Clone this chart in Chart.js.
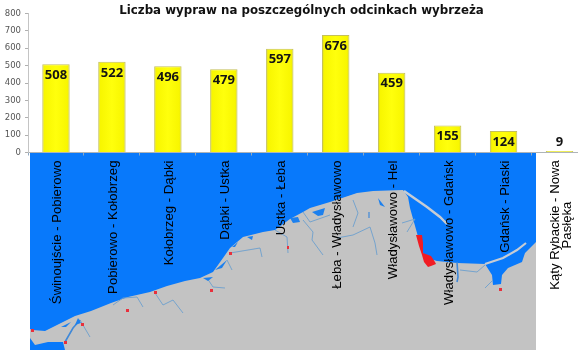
<!DOCTYPE html>
<html lang="pl">
<head>
<meta charset="UTF-8">
<title>Liczba wypraw</title>
<script src="https://cdn.jsdelivr.net/npm/chart.js"></script>
<style>
    html, body { margin: 0; padding: 0; width: 578px; height: 355px; overflow: hidden; background: #fff; }
    #map { position: absolute; left: 0; top: 0; }
    #wrap { position: absolute; left: 0; top: 0; width: 603px; height: 355px; }
</style>
</head>
<body>
<!-- background map of the coast -->
<svg id="map" width="578" height="355">
    <rect x="30" y="153" width="506" height="197" fill="#0879fb"/>
    <path fill="#c3c3c3" d="M30 329 33 330 45 331 51 328 61 323 75 316 91 311 111 303 128 297 150 292 167 286 185 281 200 278 213 272 223 258 230 248 243 237 263 232 275 230 290 219 303 212 310 208 330 202 357 193 373 191 403 190 408 197 410 208 417 233 422 252 427 258 437 261 457 263 485 264 492 275 493 285 501 284 502 275 508 268 522 262 525 253 536 242 536 350 65 350 63 342 48 342 35 345 30 338Z"/>
    <g fill="none" stroke="#c6ccd4">
        <path stroke-width="2.4" d="M404 191 427 207 440 217 447 224"/>
        <path stroke-width="2.2" d="M485 264 503 258 517 250 526 243"/>
    </g>
    <g fill="none" stroke="#6c9fce" stroke-width="0.9">
        <path d="M80 320 90 337"/>
        <path d="M113 305 123 298 137 297 143 307"/>
        <path d="M155 293 163 305 173 300 183 313"/>
        <path d="M207 278 213 287 225 288"/>
        <path d="M230 253 260 248 262 257"/>
        <path d="M227 260 232 270"/>
        <path d="M303 220 313 232 312 240 323 255"/>
        <path d="M337 238 353 235 370 227 375 243 377 255"/>
        <path d="M353 200 358 213 353 227"/>
        <path d="M402 223 415 219 407 232"/>
        <path d="M460 270 477 272 485 265"/>
        <path d="M485 288 493 280"/>
        <path d="M275 230 287 237 288 253"/>
        <path d="M303 212 310 222 330 215"/>
    </g>
    <g fill="none" stroke="#3f88d8">
        <path stroke-width="1.6" d="M65 342 73 328 80 320"/>
        <path stroke-width="1.6" d="M457 262 458 277 457 282"/>
        <path stroke-width="1.2" d="M369 212 369 218"/>
    </g>
    <g fill="#1c80ee">
        <path d="M290 218 298 217 300 222 293 223Z"/>
        <path d="M312 212 325 208 323 215 318 216Z"/>
        <path d="M378 198 385 207 380 205Z"/>
        <path d="M247 237 253 236 252 240Z"/>
        <path d="M232 247 238 242 235 247Z"/>
        <path d="M215 270 227 260 222 268Z"/>
        <path d="M203 278 213 277 208 281Z"/>
        <path d="M78 318 81 323 75 325Z"/>
        <path d="M61 327 71 322 66 327Z"/>
    </g>
    <path fill="#f01c24" d="M416 235 422 235 423 243 423 253 431 256 435 262 436 264 431 266 428 267 424 262 422 255 419 246Z"/>
    <g fill="#e8303c">
        <rect x="31" y="329" width="3" height="3"/>
        <rect x="64" y="341" width="3" height="3"/>
        <rect x="81" y="323" width="3" height="3"/>
        <rect x="126" y="309" width="3" height="3"/>
        <rect x="154" y="291" width="3" height="3"/>
        <rect x="210" y="289" width="3" height="3"/>
        <rect x="229" y="252" width="3" height="3"/>
        <rect x="287" y="246" width="2" height="3"/>
        <rect x="499" y="288" width="3" height="3"/>
    </g>
</svg>
<div id="wrap"><canvas id="chart"></canvas></div>

<script>
    const categories = [
        'Świnoujście - Pobierowo',
        'Pobierowo - Kołobrzeg',
        'Kołobrzeg - Dąbki',
        'Dąbki - Ustka',
        'Ustka - Łeba',
        'Łeba - Władysławowo',
        'Władysławowo - Hel',
        'Władysławowo - Gdańsk',
        'Gdańsk - Piaski',
        ['Kąty Rybackie - Nowa', 'Pasłęka']
    ];
    const wyprawy = [508, 522, 496, 479, 597, 676, 459, 155, 124, 9];
    const yTicks = [0, 100, 200, 300, 400, 500, 600, 700, 800];

    function barFill(ctx) {
        const chart = ctx.chart;
        const x = chart.scales.x ? chart.scales.x.getPixelForValue(ctx.dataIndex) : NaN;
        if (!Number.isFinite(x)) return '#ffff00';
        const g = chart.ctx.createLinearGradient(x - 14, 0, x + 14, 0);
        g.addColorStop(0, '#d2ce2c');
        g.addColorStop(0.09, '#f8f600');
        g.addColorStop(0.5, '#ffff0c');
        g.addColorStop(0.91, '#f8f600');
        g.addColorStop(1, '#c8c42c');
        return g;
    }

    // value labels on the bars, and the two-line last category (rotated ticks can't centre lines)
    const barLabels = {
        id: 'barLabels',
        afterLayout(chart) {
            // y tick labels get clipped to the scale box otherwise
            chart.scales.y.left = 0;
        },
        afterDatasetsDraw(chart) {
            const c = chart.ctx;
            const bars = chart.getDatasetMeta(0).data;
            c.save();
            c.font = 'bold 13px "Open Sans"';
            c.fillStyle = '#141414';
            c.textAlign = 'center';
            c.textBaseline = 'middle';
            bars.forEach((bar, i) => {
                const y = wyprawy[i] > 50 ? bar.y + 11 : bar.y - 9;
                c.fillText(wyprawy[i], bar.x, y);
            });
            const last = categories.length - 1;
            c.translate(chart.scales.x.getPixelForValue(last), 225);
            c.rotate(-Math.PI / 2);
            c.font = '13.2px "Liberation Sans"';
            c.fillStyle = '#000';
            c.fillText(categories[last][0], 0, -4.5);
            c.fillText(categories[last][1], 0, 7.5);
            c.restore();
        }
    };

    new Chart(document.getElementById('chart'), {
        type: 'bar',
        data: {
            labels: categories,
            datasets: [{
                data: wyprawy,
                backgroundColor: barFill,
                borderColor: '#c4c05a',
                borderWidth: 1,
                categoryPercentage: 1,
                barPercentage: 0.49
            }]
        },
        plugins: [barLabels],
        options: {
            responsive: true,
            maintainAspectRatio: false,
            animation: false,
            layout: { padding: { left: 15.5, right: 15.5 } },
            plugins: {
                legend: { display: false },
                tooltip: { enabled: false },
                title: {
                    display: true,
                    text: 'Liczba wypraw na poszczególnych odcinkach wybrzeża',
                    color: '#111',
                    font: { family: '"DejaVu Sans"', size: 11.8, weight: 'bold', lineHeight: 0.51 },
                    padding: { top: 7.5, bottom: 0 }
                }
            },
            scales: {
                x: {
                    afterFit(scale) { scale.height = 355 - 152.5; },
                    border: { color: '#aeb4b8' },
                    grid: { drawOnChartArea: false, tickLength: 3, color: '#8fa8c0' },
                    ticks: {
                        autoSkip: false,
                        minRotation: 90,
                        maxRotation: 90,
                        padding: 5,
                        labelOffset: 1.5,
                        color: '#000',
                        font: { family: '"Liberation Sans"', size: 13.2 },
                        callback(value) {
                            const label = categories[value];
                            return Array.isArray(label) ? '' : label;
                        }
                    }
                },
                y: {
                    min: 0,
                    max: 800,
                    afterFit(scale) { scale.width = 12.5; },
                    afterBuildTicks(scale) { scale.ticks = yTicks.map(v => ({ value: v })); },
                    border: { color: '#c4c4c4' },
                    grid: { drawOnChartArea: false, tickLength: 3, color: '#b0b0b0' },
                    ticks: {
                        padding: 4,
                        color: '#555',
                        font: { family: '"DejaVu Sans"', size: 8.5 }
                    }
                }
            }
        }
    });
</script>
</body>
</html>
